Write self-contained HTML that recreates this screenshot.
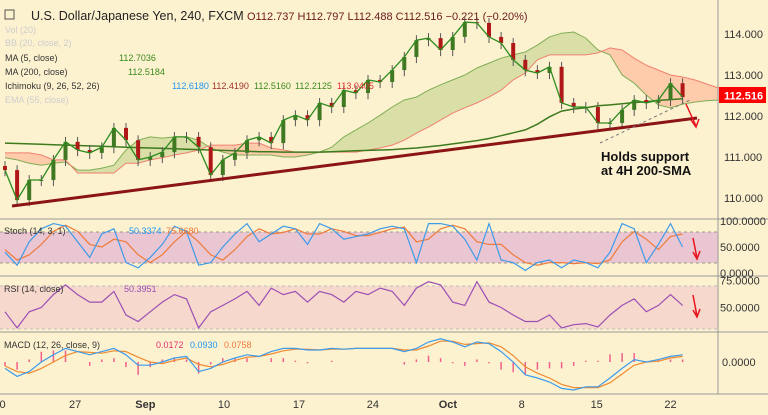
<!DOCTYPE html>
<html><head><meta charset="utf-8">
<style>
body{margin:0;background:#fdf2d0;}
svg{display:block;font-family:"Liberation Sans",sans-serif;}
</style></head>
<body>
<svg id="c" width="768" height="415" viewBox="0 0 768 415">
<rect x="0" y="0" width="768" height="415" fill="#fdf2d0"/>
</svg>
<script>
const closes=[110.68,109.95,110.44,110.44,110.93,111.37,111.17,111.10,111.24,111.71,111.41,110.93,111.00,111.12,111.49,111.49,111.24,110.56,110.93,111.10,111.41,111.49,111.34,111.90,112.02,111.90,112.32,112.22,112.63,112.56,112.88,112.83,113.12,113.44,113.85,113.90,113.61,113.93,114.29,114.27,113.93,113.78,113.37,113.12,113.05,113.20,112.32,112.22,112.22,111.83,111.83,112.15,112.39,112.32,112.39,112.80,112.46];
const ma200=[111.34,111.33,111.32,111.31,111.30,111.29,111.28,111.27,111.26,111.25,111.24,111.23,111.22,111.21,111.20,111.19,111.18,111.17,111.16,111.15,111.14,111.13,111.13,111.12,111.12,111.12,111.12,111.13,111.14,111.15,111.16,111.17,111.18,111.20,111.22,111.25,111.28,111.32,111.36,111.40,111.45,111.52,111.59,111.66,111.80,111.98,112.12,112.17,112.20,112.25,112.27,112.30,112.33,112.35,112.38,112.40,112.42];
const spanA=[110.98,110.93,110.85,110.80,110.85,110.88,110.68,110.68,110.73,110.80,111.17,111.41,111.49,111.46,111.49,111.49,111.41,111.22,111.12,111.05,111.05,111.05,111.05,111.00,111.00,111.05,111.12,111.24,111.49,111.66,111.83,112.02,112.22,112.39,112.46,112.63,112.76,112.88,113.00,113.17,113.29,113.41,113.49,113.56,113.73,113.93,114.02,114.05,113.90,113.61,113.49,113.00,112.80,112.51,112.27,112.20,112.29,112.34,112.37,112.39];
const spanB=[111.10,111.10,111.10,111.05,110.93,110.93,110.61,110.61,110.61,110.61,110.85,110.85,110.93,110.98,111.05,111.10,111.17,111.29,111.29,111.29,111.34,111.34,111.22,111.17,111.12,111.12,111.12,111.12,111.12,111.12,111.17,111.22,111.29,111.41,111.58,111.73,111.90,112.07,112.20,112.32,112.46,112.63,112.88,113.05,113.37,113.49,113.49,113.49,113.49,113.54,113.66,113.61,113.41,113.24,113.12,113.00,112.95,112.88,112.78,112.68];
const stochK=[40,15,60,85,95,90,60,30,75,85,20,10,30,55,90,80,15,20,50,75,95,60,75,90,85,55,95,85,65,70,75,85,90,85,20,95,95,90,65,25,95,25,20,5,20,25,10,25,20,10,40,95,85,20,55,95,50];
const stochD=[45,25,35,55,80,92,80,55,50,65,60,35,20,35,60,80,60,35,25,45,70,85,75,78,85,75,75,85,80,72,72,78,85,88,60,65,85,92,85,60,55,55,35,20,15,20,20,18,20,18,25,60,80,65,45,70,75];
const rsi=[46,31,46,50,62,71,62,55,55,65,43,37,46,55,62,58,31,46,52,58,65,52,68,62,65,55,65,62,55,65,62,68,65,52,68,74,71,55,52,74,55,50,43,37,37,43,31,34,35,32,43,52,58,46,52,62,52];
const macd=[-0.08,-0.18,-0.12,0,0.09,0.17,0.13,0.09,0.13,0.17,0.09,-0.04,-0.04,0,0.05,0.07,-0.12,-0.08,0,0.05,0.09,0.07,0.13,0.17,0.17,0.15,0.15,0.17,0.16,0.17,0.17,0.17,0.17,0.13,0.17,0.25,0.29,0.25,0.19,0.25,0.23,0.13,0,-0.16,-0.2,-0.25,-0.33,-0.35,-0.31,-0.31,-0.2,-0.08,0.03,0,0.03,0.07,0.09];
const signal=[-0.05,-0.12,-0.14,-0.08,0,0.08,0.13,0.12,0.11,0.14,0.13,0.06,0,-0.02,0.02,0.05,-0.03,-0.06,-0.03,0.02,0.06,0.07,0.1,0.14,0.16,0.16,0.15,0.16,0.16,0.17,0.17,0.17,0.17,0.15,0.15,0.2,0.26,0.26,0.22,0.23,0.24,0.19,0.08,-0.06,-0.14,-0.2,-0.28,-0.32,-0.32,-0.32,-0.26,-0.15,-0.04,0,0.01,0.05,0.07];
const priceTicks=[114,113,112,111,110];
const stochTicks=[100,50,0];
const rsiTicks=[75,50];
const dateLabels=["0","27","Sep","10","17","24","Oct","8","15","22"];
const dateIdx=[-0.2,5.8,11.6,18.1,24.3,30.4,36.6,42.7,48.9,55.0];

const NS="http://www.w3.org/2000/svg";
const svg=document.getElementById('c');
function el(t,a,p){const e=document.createElementNS(NS,t);for(const k in a)e.setAttribute(k,a[k]);(p||svg).appendChild(e);return e;}
const xS=i=>5+i*12.1;
const yP=p=>34+(114-p)*41;
const yS=v=>273-v*0.52;
const yR=v=>307.5-(v-50)*1.075;
const yM=v=>362-v*80;
const pts=(arr,f)=>arr.map((v,i)=>xS(i).toFixed(1)+','+f(v).toFixed(1)).join(' ');

for(let i=0;i<spanA.length-1;i++){
  const g=(spanA[i]+spanA[i+1])>(spanB[i]+spanB[i+1]);
  const q=el('polygon',{points:`${xS(i)},${yP(spanA[i])} ${xS(i+1)},${yP(spanA[i+1])} ${xS(i+1)},${yP(spanB[i+1])} ${xS(i)},${yP(spanB[i])}`,fill:g?'rgba(150,190,90,0.35)':'rgba(255,140,110,0.38)'});
  
  
}
let l=el('polyline',{points:pts(spanA,yP),fill:'none',stroke:'#7fae55','stroke-width':1});

l=el('polyline',{points:pts(spanB,yP),fill:'none',stroke:'#f08070','stroke-width':1});

l=el('polyline',{points:pts(ma200,yP),fill:'none',stroke:'#3d7a1e','stroke-width':1.5});


closes.forEach((c,i)=>{
  const o=i?closes[i-1]:c+0.1;
  const up=c>=o, col=up?'#3f7a22':'#b01818';
  const hi=Math.max(o,c)+0.12, lo=Math.min(o,c)-0.15;
  const w=el('line',{x1:xS(i),x2:xS(i),y1:yP(hi),y2:yP(lo),stroke:'#555','stroke-width':1});
  
  const b=el('rect',{x:xS(i)-2,y:yP(Math.max(o,c)),width:4,height:Math.max(1,Math.abs(yP(o)-yP(c))),fill:col});
  
});
l=el('polyline',{points:pts(closes,yP),fill:'none',stroke:'#2e8b1e','stroke-width':1.3});


el('line',{x1:12,y1:206,x2:697,y2:118,stroke:'#8b1414','stroke-width':3,});
el('line',{x1:600,y1:143,x2:690,y2:100,stroke:'#777','stroke-width':1,'stroke-dasharray':'3,3',});
el('path',{d:'M686,104 L696,126 M691,120 L696,127 L699,119',stroke:'#e8141e','stroke-width':1.5,fill:'none',});
let t=el('text',{x:601,y:161,'font-size':13,'font-weight':'bold',fill:'#111',});t.textContent='Holds support';
t=el('text',{x:601,y:175,'font-size':13,'font-weight':'bold',fill:'#111',});t.textContent='at 4H 200-SMA';

el('rect',{x:0,y:232,width:718,height:31,fill:'#e9c6d2',});
el('line',{x1:0,x2:718,y1:232,y2:232,stroke:'#998','stroke-dasharray':'3,3'});
el('line',{x1:0,x2:718,y1:263,y2:263,stroke:'#998','stroke-dasharray':'3,3'});
el('rect',{x:0,y:286,width:718,height:43,fill:'#f6d9cc',});
el('line',{x1:0,x2:718,y1:286,y2:286,stroke:'#bbb','stroke-dasharray':'3,3'});
el('line',{x1:0,x2:718,y1:329,y2:329,stroke:'#bbb','stroke-dasharray':'3,3'});
[219,276,332,394].forEach(y=>el('line',{x1:0,x2:768,y1:y,y2:y,stroke:'#999','stroke-width':1,}));
el('line',{x1:718,x2:718,y1:0,y2:394,stroke:'#999',});

l=el('polyline',{points:pts(stochD,yS),fill:'none',stroke:'#f07a3a','stroke-width':1.2});
l=el('polyline',{points:pts(stochK,yS),fill:'none',stroke:'#3d9be9','stroke-width':1.2});
l=el('polyline',{points:pts(rsi,yR),fill:'none',stroke:'#9b4fb5','stroke-width':1.2});
macd.forEach((v,i)=>{const h=(v-signal[i])*1.6;const r=el('line',{x1:xS(i),x2:xS(i),y1:yM(0),y2:yM(h),stroke:'#f0608a','stroke-width':1.5});
 });
l=el('polyline',{points:pts(signal,yM),fill:'none',stroke:'#f08a30','stroke-width':1.2});
l=el('polyline',{points:pts(macd,yM),fill:'none',stroke:'#3d9be9','stroke-width':1.2});
el('path',{d:'M693,238 L697,258 M693,252 L697,259 L700,251',stroke:'#e8141e','stroke-width':1.5,fill:'none',});
el('path',{d:'M693,295 L697,316 M693,310 L697,317 L700,309',stroke:'#e8141e','stroke-width':1.5,fill:'none',});

priceTicks.forEach(p=>{const e=el('text',{x:724,y:yP(p)+4,'font-size':11,fill:'#333'});e.textContent=p.toFixed(3);
 });
el('rect',{x:719,y:87,width:47,height:16,fill:'#ff0000',});
t=el('text',{x:724,y:99.5,'font-size':11,fill:'#fff','font-weight':'bold'});t.textContent='112.516';
stochTicks.forEach(v=>{const e=el('text',{x:720,y:yS(v)+4,'font-size':11,fill:'#333'});e.textContent=v.toFixed(4);
 });
rsiTicks.forEach(v=>{const e=el('text',{x:720,y:yR(v)+4,'font-size':11,fill:'#333'});e.textContent=v.toFixed(4);
 });
t=el('text',{x:722,y:366,'font-size':11,fill:'#333',});t.textContent='0.0000';
dateLabels.forEach((d,i)=>{const e=el('text',{x:xS(dateIdx[i]),y:408,'font-size':11,fill:'#333','text-anchor':'middle','font-weight':(d==='Sep'||d==='Oct')?'bold':'normal'});e.textContent=d;
 });

function txt(x,y,s,c,fs,n){const e=el('text',{x:x,y:y,'font-size':fs||9,fill:c});e.textContent=s;return e;}
txt(31,20,'U.S. Dollar/Japanese Yen, 240, FXCM','#222',12.5,'chart-title');
el('rect',{x:5,y:10,width:9,height:9,fill:'none',stroke:'#555',});
txt(247,20,'O112.737  H112.797  L112.488  C112.516  −0.221 (−0.20%)','#6a1a1a',11,'ohlc-values');
txt(5,33,'Vol (20)','#ccc',9,'legend-vol');
txt(5,46,'BB (20, close, 2)','#ccc',9,'legend-bb');
txt(5,61,'MA (5, close)','#333',9,'legend-ma5');txt(119,61,'112.7036','#3a8a1e',9,'legend-ma5-value');
txt(5,75,'MA (200, close)','#333',9,'legend-ma200');txt(128,75,'112.5184','#3a8a1e',9,'legend-ma200-value');
txt(5,89,'Ichimoku (9, 26, 52, 26)','#333',9,'legend-ichimoku');
txt(172,89,'112.6180','#2196f3',9,'ichimoku-v1');txt(212,89,'112.4190','#a0302a',9,'ichimoku-v2');
txt(254,89,'112.5160','#3a8a1e',9,'ichimoku-v3');txt(295,89,'112.2125','#3a8a1e',9,'ichimoku-v4');txt(337,89,'113.0405','#e03030',9,'ichimoku-v5');
txt(5,103,'EMA (55, close)','#ccc',9,'legend-ema');
txt(4,234,'Stoch (14, 3, 1)','#333',9,'legend-stoch');txt(129,234,'50.3374','#2196f3',9,'stoch-k-value');txt(166,234,'75.6680','#f07a3a',9,'stoch-d-value');
txt(4,292,'RSI (14, close)','#333',9,'legend-rsi');txt(124,292,'50.3951','#9b4fb5',9,'rsi-value');
txt(4,348,'MACD (12, 26, close, 9)','#333',9,'legend-macd');txt(156,348,'0.0172','#e03070',9,'macd-hist-value');txt(190,348,'0.0930','#2196f3',9,'macd-value');txt(224,348,'0.0758','#f07a3a',9,'macd-signal-value');
</script>
</body></html>
